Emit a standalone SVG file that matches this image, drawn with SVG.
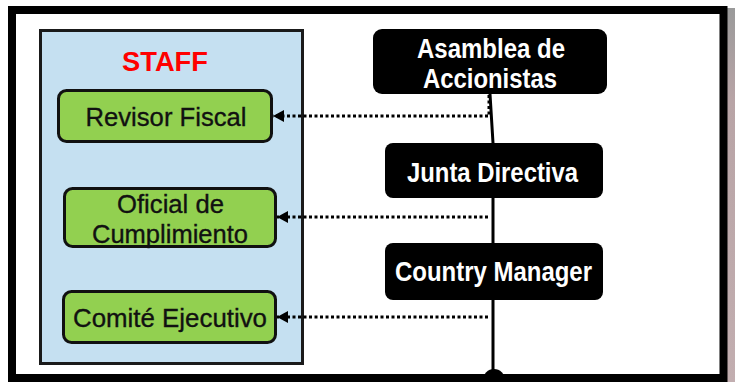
<svg xmlns="http://www.w3.org/2000/svg" width="735" height="382" viewBox="0 0 735 382">
<defs>
<marker id="arr" markerUnits="userSpaceOnUse" markerWidth="11" markerHeight="12" refX="11" refY="6" orient="auto">
<path d="M0,0 L11,6 L0,12 z" fill="#000"/>
</marker>
<linearGradient id="shadow" x1="0" y1="0" x2="0" y2="1">
<stop offset="0" stop-color="#9a9a9a"/>
<stop offset="0.25" stop-color="#b8a4a6"/>
<stop offset="1" stop-color="#c2aeb0"/>
</linearGradient>
<style>
.staffbox{fill:#C5E0F1;stroke:#1a1a1a;stroke-width:3}
.green{fill:#92D050;stroke:#111;stroke-width:3}
.black{fill:#000}
.gt{font-family:"Liberation Sans",Arial,sans-serif;font-size:26.5px;fill:#111;stroke:#111;stroke-width:0.35;text-anchor:middle}
.wt{font-family:"Liberation Sans",Arial,sans-serif;font-size:27px;font-weight:bold;fill:#fff;text-anchor:middle}
.dot{fill:none;stroke:#000;stroke-width:3;stroke-dasharray:3 2.5}
.solid{fill:none;stroke:#000;stroke-width:3}
</style>
</defs>
<rect x="0" y="0" width="735" height="382" fill="#fff"/>
<rect x="727" y="8" width="8" height="374" fill="url(#shadow)"/>

<g id="staff">
<rect class="staffbox" x="40.5" y="30.5" width="262" height="333"/>
<text x="165" y="71" font-family="'Liberation Sans',Arial,sans-serif" font-size="27" font-weight="bold" fill="#FF0000" text-anchor="middle" textLength="86" lengthAdjust="spacingAndGlyphs">STAFF</text>
</g>

<g id="revisor">
<rect class="green" x="58.5" y="90.5" width="213" height="51" rx="8"/>
<text class="gt" x="166" y="126" textLength="161" lengthAdjust="spacingAndGlyphs">Revisor Fiscal</text>
</g>

<g id="oficial">
<rect class="green" x="64.5" y="188.5" width="211" height="58" rx="8"/>
<text class="gt" x="170.5" y="212.5" textLength="107" lengthAdjust="spacingAndGlyphs">Oficial de</text>
<text class="gt" x="170" y="242.5" textLength="156" lengthAdjust="spacingAndGlyphs">Cumplimiento</text>
</g>

<g id="comite">
<rect class="green" x="63.5" y="291.5" width="212" height="51" rx="8"/>
<text class="gt" x="170" y="327" textLength="194" lengthAdjust="spacingAndGlyphs">Comité Ejecutivo</text>
</g>

<g id="connectors">
<path class="solid" d="M490,94 L493,143 L493,376"/>
<path class="dot" d="M489,95 L489,116 L273,116" marker-end="url(#arr)"/>
<path class="dot" d="M488,217 L277,217" marker-end="url(#arr)"/>
<path class="dot" d="M488,317 L277,317" marker-end="url(#arr)"/>
<circle cx="494" cy="380" r="11" fill="#000"/>
</g>

<g id="asamblea">
<rect class="black" x="373" y="29" width="234" height="65" rx="9"/>
<text class="wt" x="491" y="58" textLength="148" lengthAdjust="spacingAndGlyphs">Asamblea de</text>
<text class="wt" x="490" y="88" textLength="134" lengthAdjust="spacingAndGlyphs">Accionistas</text>
</g>

<g id="junta">
<rect class="black" x="385" y="143" width="218" height="55" rx="8"/>
<text class="wt" x="492.5" y="182" textLength="171" lengthAdjust="spacingAndGlyphs">Junta Directiva</text>
</g>

<g id="country">
<rect class="black" x="385" y="243" width="218" height="57" rx="8"/>
<text class="wt" x="493.5" y="281" textLength="197" lengthAdjust="spacingAndGlyphs">Country Manager</text>
</g>

<rect x="12" y="10" width="711.5" height="368" fill="none" stroke="#000" stroke-width="8"/>
</svg>
